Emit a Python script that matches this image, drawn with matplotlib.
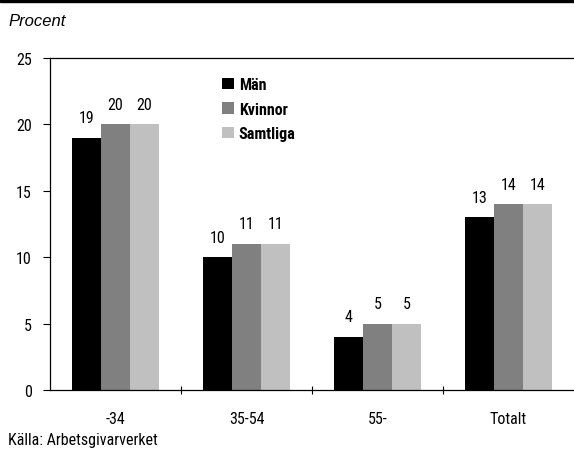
import matplotlib
matplotlib.use("Agg")
import matplotlib.pyplot as plt
from matplotlib.patches import Rectangle
import numpy as np

categories = ["-34", "35-54", "55-", "Totalt"]
series_names = ["Män", "Kvinnor", "Samtliga"]
man = [19, 10, 4, 13]
kvinnor = [20, 11, 5, 14]
samtliga = [20, 11, 5, 14]
yticks = [0, 5, 10, 15, 20, 25]

colors = ["#000000", "#808080", "#c0c0c0"]
cond = ["Roboto Condensed", "DejaVu Sans"]

fig = plt.figure(figsize=(5.74, 4.52), dpi=100)
ax = fig.add_axes([50 / 574, 61 / 452, 1 - 50 / 574, (391 - 59) / 452])

x = np.arange(len(categories))
w = 0.222
for i, (vals, name, c) in enumerate(zip([man, kvinnor, samtliga], series_names, colors)):
    pos = x + (i - 1) * w
    ax.bar(pos, vals, width=w, color=c, label=name, zorder=2)
    for xp, v in zip(pos, vals):
        ax.annotate(f"{v}", (xp, v), xytext=(0, 9), textcoords="offset points",
                    ha="center", va="bottom", fontsize=11.5, family=cond)

ax.set_xlim(-0.5, len(categories) - 0.5)
ax.set_ylim(0, 25)
ax.set_yticks(yticks)
ax.set_yticklabels([str(t) for t in yticks], family=cond, fontsize=11.5)
ax.set_xticks(x)
ax.set_xticklabels(categories, family=cond, fontsize=11.5)
ax.tick_params(axis="x", which="major", length=0, pad=15)
ax.set_xticks(np.arange(len(categories) - 1) + 0.5, minor=True)
ax.tick_params(axis="x", which="minor", length=6, direction="inout", width=0.8)
ax.tick_params(axis="y", length=5, width=0.8, direction="out", pad=8)

for s in ["left", "top", "bottom"]:
    ax.spines[s].set_linewidth(0.9)
ax.spines["right"].set_visible(False)

ax.legend(loc="upper left", bbox_to_anchor=(0.316, 0.962), frameon=False,
          prop={"family": cond, "weight": "bold", "size": 11.5},
          handlelength=0.75, handleheight=0.75, handletextpad=0.3,
          labelspacing=0.6, borderaxespad=0)

fig.text(8 / 574, 1 - 21 / 452, "Procent", fontsize=12, style="italic",
         family="Liberation Sans", va="center", ha="left")
fig.text(8 / 574, 1 - 441 / 452, "Källa: Arbetsgivarverket", fontsize=11.5,
         family=cond, va="center", ha="left")

fig.patches.append(Rectangle((0, 1 - 3 / 452), 1, 3 / 452, transform=fig.transFigure,
                             color="black", zorder=5))

fig.savefig("out.png", dpi=100)
